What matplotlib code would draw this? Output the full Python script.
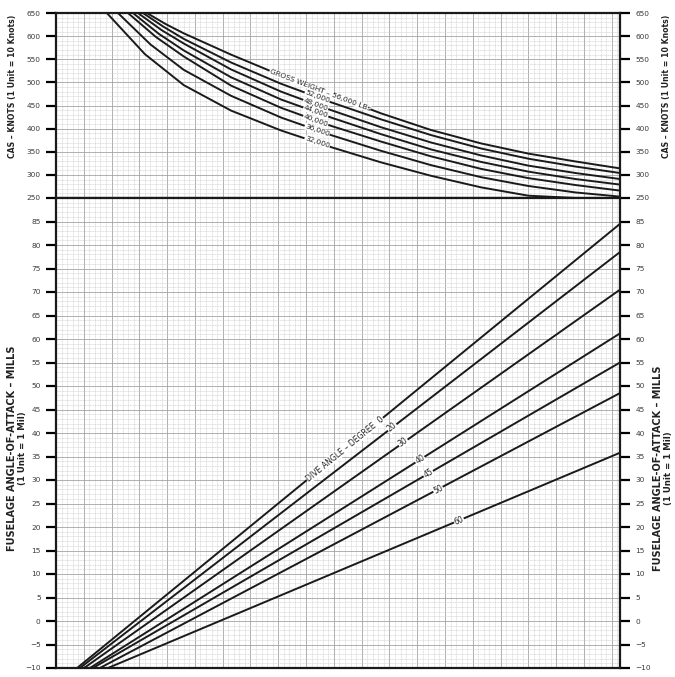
import numpy as np
import matplotlib.pyplot as plt
from matplotlib.ticker import MultipleLocator

# ------------------------------------------------------------------ #
# Top panel: CAS vs. gross weight
# ------------------------------------------------------------------ #
gw_labels = ["56,000", "52,000", "48,000", "44,000", "40,000", "36,000", "32,000"]
gw_x_start = [3.27, 3.13, 2.95, 2.77, 2.59, 2.23, 1.83]   # where each curve leaves 650 kt
gw_x_mid = [3.95, 3.85, 3.8, 3.7, 3.6, 3.4, 3.2]
cas_mid = [626, 621, 613, 605, 598, 582, 561]
gw_x = [4.6, 6.3, 8.1, 9.9, 11.7, 13.5, 15.3, 17.0, 18.7, 20.3]
cas_56k = [606, 560, 515, 474, 433, 397, 368, 346, 329, 314]
cas_52k = [594, 543, 497, 457, 420, 386, 357, 335, 318, 304]
cas_48k = [584, 528, 480, 440, 403, 370, 342, 320, 304, 291]
cas_44k = [569, 511, 463, 424, 388, 355, 328, 307, 291, 279]
cas_40k = [556, 493, 445, 406, 372, 340, 313, 293, 278, 266]
cas_36k = [527, 471, 424, 386, 352, 321, 295, 276, 262, 253]
cas_32k = [494, 439, 396, 360, 327, 298, 273, 255, 250, 250]
cas_curves = [cas_56k, cas_52k, cas_48k, cas_44k, cas_40k, cas_36k, cas_32k]
gw_label_x = [9.5, 9.4, 9.35, 9.35, 9.35, 9.4, 9.4]

# ------------------------------------------------------------------ #
# Bottom panel: fuselage AOA vs. dive angle
# ------------------------------------------------------------------ #
dive_angles = ["0", "20", "30", "40", "45", "50", "60"]
aoa_x_start = [0.76, 0.86, 1.01, 1.22, 1.33, 1.58, 1.87]   # where each line leaves -10
aoa_end = [84.5, 78.5, 70.5, 61.2, 55.0, 48.5, 35.8]
dive_label_x = [10.4, 12.1, 12.5, 13.1, 13.4, 13.75, 14.5]

X_MAX = 20.3

cas_ticks = np.arange(250, 651, 50)
aoa_ticks = np.arange(-10, 86, 5)


def style_axis(ax, ymin, ymax, minor, ticks):
    ax.set_xlim(0, X_MAX)
    ax.set_ylim(ymin, ymax)
    ax.xaxis.set_major_locator(MultipleLocator(1))
    ax.xaxis.set_minor_locator(MultipleLocator(0.2))
    ax.set_yticks(ticks)
    ax.yaxis.set_minor_locator(MultipleLocator(minor))
    ax.grid(which="major", color="#a3a3a3", lw=0.6)
    ax.grid(which="minor", color="#c9c9c9", lw=0.4, ls=(0, (2, 1)))
    ax.set_axisbelow(True)
    ax.tick_params(axis="x", which="both", length=0, labelbottom=False)
    ax.tick_params(axis="y", which="minor", length=0)
    ax.tick_params(axis="y", which="major", direction="out", length=7, width=1.6,
                   left=True, right=True, labelleft=True, labelright=True,
                   labelsize=5.3, labelcolor="#3a3a3a", pad=4)
    for sp in ax.spines.values():
        sp.set_linewidth(1.6)
        sp.set_color("#1a1a1a")


def screen_angle(ax, x0, y0, x1, y1):
    p = ax.transData.transform([(x0, y0), (x1, y1)])
    return np.degrees(np.arctan2(p[1, 1] - p[0, 1], p[1, 0] - p[0, 0]))


fig = plt.figure(figsize=(6.75, 6.77), dpi=100)
ax_top = fig.add_axes([56 / 675, 1 - 198 / 677, 564 / 675, 185 / 677])
ax_bot = fig.add_axes([56 / 675, 1 - 668 / 677, 564 / 675, 470 / 677])

style_axis(ax_top, 250, 650, 10, cas_ticks)
style_axis(ax_bot, -10, 90, 1, aoa_ticks)

# gross weight curves
for i, cas in enumerate(cas_curves):
    xs = [gw_x_start[i], gw_x_mid[i]] + gw_x
    ys = [650, cas_mid[i]] + cas
    ax_top.plot(xs, ys, color="#1a1a1a", lw=1.4)
    lx = gw_label_x[i]
    ly = np.interp(lx, xs, ys)
    ang = screen_angle(ax_top, lx - 0.5, np.interp(lx - 0.5, xs, ys),
                       lx + 0.5, np.interp(lx + 0.5, xs, ys))
    txt = "GROSS WEIGHT \u2013 56,000 LBs" if i == 0 else gw_labels[i]
    ax_top.text(lx, ly, txt, fontsize=5.3, rotation=ang, rotation_mode="anchor",
                ha="center", va="center", color="#222222",
                bbox=dict(boxstyle="square,pad=0.05", fc="white", ec="none"))

# dive angle lines
for i, (x0, y1) in enumerate(zip(aoa_x_start, aoa_end)):
    xs = [x0, X_MAX]
    ys = [-10, y1]
    ax_bot.plot(xs, ys, color="#1a1a1a", lw=1.4)
    lx = dive_label_x[i]
    ly = np.interp(lx, xs, ys)
    ang = screen_angle(ax_bot, xs[0], ys[0], xs[1], ys[1])
    txt = "DIVE ANGLE \u2013 DEGREE  0" if i == 0 else dive_angles[i]
    ax_bot.text(lx, ly, txt, fontsize=5.6, rotation=ang, rotation_mode="anchor",
                ha="center", va="center", color="#222222",
                bbox=dict(boxstyle="square,pad=0.05", fc="white", ec="none"))

# axis titles
lab = dict(rotation=90, ha="center", va="center", fontweight="bold", color="#222222")
fig.text(13 / 675, 1 - 86 / 677, "CAS \u2013 KNOTS (1 Unit = 10 Knots)", fontsize=5.6, **lab)
fig.text(667 / 675, 1 - 86 / 677, "CAS \u2013 KNOTS (1 Unit = 10 Knots)", fontsize=5.6, **lab)
fig.text(12 / 675, 1 - 448 / 677, "FUSELAGE ANGLE-OF-ATTACK \u2013 MILLS", fontsize=7.0, **lab)
fig.text(23 / 675, 1 - 448 / 677, "(1 Unit = 1 Mil)", fontsize=6.2, **lab)
fig.text(658 / 675, 1 - 468 / 677, "FUSELAGE ANGLE-OF-ATTACK \u2013 MILLS", fontsize=7.0, **lab)
fig.text(668 / 675, 1 - 468 / 677, "(1 Unit = 1 Mil)", fontsize=6.2, **lab)

fig.savefig("out.png", dpi=100, facecolor="white")
